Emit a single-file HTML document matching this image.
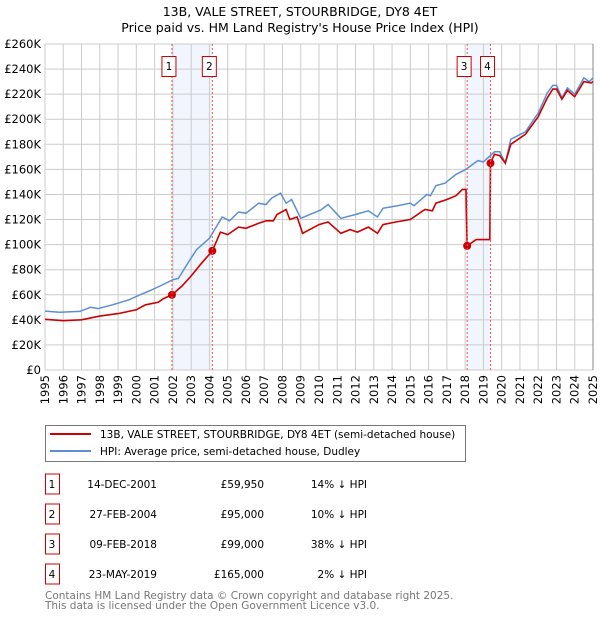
<!DOCTYPE html>
<html><head><meta charset="utf-8"><style>
body{margin:0;background:#fff;width:600px;height:620px;overflow:hidden;font-family:"DejaVu Sans","Liberation Sans",sans-serif;}
svg text{font-family:"DejaVu Sans","Liberation Sans",sans-serif;}
</style></head><body>
<svg id="chart" width="600" height="620" xmlns="http://www.w3.org/2000/svg">
<text x="300" y="16" text-anchor="middle" font-size="12.5" fill="#000">13B, VALE STREET, STOURBRIDGE, DY8 4ET</text>
<text x="300" y="32" text-anchor="middle" font-size="12.5" fill="#000">Price paid vs. HM Land Registry's House Price Index (HPI)</text>
<g id="shades"></g><g id="grid"></g><g id="axes"></g><g id="series"></g><g id="marks"></g>
<g>
<rect x="45.5" y="425.5" width="420" height="36" fill="#fff" stroke="#777"/>
<line x1="50" y1="434" x2="91" y2="434" stroke="#cc0000" stroke-width="2"/>
<text x="100" y="438" font-size="10.5">13B, VALE STREET, STOURBRIDGE, DY8 4ET (semi-detached house)</text>
<line x1="50" y1="451" x2="91" y2="451" stroke="#5b8fd4" stroke-width="2"/>
<text x="100" y="455" font-size="10.5">HPI: Average price, semi-detached house, Dudley</text>
</g>
<g id="table" font-size="10.5"></g>
<text x="45" y="599" font-size="10.5" fill="#777">Contains HM Land Registry data © Crown copyright and database right 2025.</text>
<text x="45" y="609" font-size="10.5" fill="#777">This data is licensed under the Open Government Licence v3.0.</text>
</svg>
<script>
const hpiYears=[1995.0,1995.8,1996.9,1997.5,1997.9,1998.7,1999.6,2000.2,2000.7,2001.3,2002.0,2002.3,2002.9,2003.3,2004.0,2004.7,2005.1,2005.6,2006.0,2006.7,2007.1,2007.4,2007.9,2008.2,2008.5,2009.0,2010.1,2010.5,2011.2,2012.0,2012.7,2013.2,2013.5,2014.3,2015.0,2015.2,2015.9,2016.1,2016.4,2016.9,2017.5,2018.0,2018.7,2019.0,2019.6,2019.9,2020.2,2020.5,2021.3,2022.0,2022.5,2022.8,2023.0,2023.3,2023.6,2024.0,2024.5,2024.8,2025.0];
const hpiValues=[47,46,46.7,50,49,52,56,60,63,67,72,73,87,96,105,122,119,126,125,133,132,137,141,133,136,121,127.6,132,121,124,127,122,129,131,133,131,140,139,147,149,156,159.7,167,166,174,174,165,184,190,205,221,227,227,217,225,220,233,230,233];
const priceYears=[1995.0,1996.0,1997.0,1998.0,1999.0,2000.0,2000.5,2001.2,2001.5,2001.95,2002.5,2003.0,2003.5,2004.16,2004.6,2005.0,2005.6,2006.0,2006.7,2007.1,2007.5,2007.7,2008.2,2008.4,2008.8,2009.1,2010.0,2010.5,2011.2,2011.7,2012.1,2012.7,2013.2,2013.5,2014.2,2015.0,2015.8,2016.2,2016.4,2017.0,2017.5,2017.85,2018.05,2018.11,2018.6,2019.35,2019.39,2019.6,2019.9,2020.2,2020.5,2021.3,2022.0,2022.5,2022.8,2023.0,2023.3,2023.6,2024.0,2024.5,2024.9,2025.0];
const priceValues=[40.4,39.3,40,43,45,48,52,54,57,59.95,67,75,84,95,110,108,114,113,117,119,119,124,128,120,122,109,116,118,109,112,110,114,109,116,118,120,128,127,133,136,139,144,144,99,104,104,165,172,171,165,180,188,202,217,224,224,216,223,218,230,229,230];
const saleYears=[2001.95,2004.16,2018.11,2019.39];
const saleValues=[59.95,95,99,165];
const saleLabels=["1","2","3","4"];
const saleDates=["14-DEC-2001","27-FEB-2004","09-FEB-2018","23-MAY-2019"];
const salePrices=["£59,950","£95,000","£99,000","£165,000"];
const saleDiffs=["14% ↓ HPI","10% ↓ HPI","38% ↓ HPI","2% ↓ HPI"];
const yTicks=[0,20,40,60,80,100,120,140,160,180,200,220,240,260];
const xTicks=[1995,1996,1997,1998,1999,2000,2001,2002,2003,2004,2005,2006,2007,2008,2009,2010,2011,2012,2013,2014,2015,2016,2017,2018,2019,2020,2021,2022,2023,2024,2025];

const NS="http://www.w3.org/2000/svg";
const X0=45,X1=593,Y0=370,Y1=44;
const xs=y=>X0+(y-1995)/30*(X1-X0);
const ys=v=>Y0-v/260*(Y0-Y1);
function mk(parent,tag,attrs){const e=document.createElementNS(NS,tag);for(const k in attrs)e.setAttribute(k,attrs[k]);document.getElementById(parent).appendChild(e);return e;}

for(let i=0;i<2;i++){
  const a=saleYears[2*i],b=saleYears[2*i+1];
  const r=mk('shades','rect',{x:xs(a),y:Y1,width:xs(b)-xs(a),height:Y0-Y1,fill:'#eef3fc',opacity:0.8});
  
  
}
yTicks.forEach(t=>{
  const l=mk('grid','line',{x1:X0,x2:X1,y1:ys(t),y2:ys(t),stroke:'#cccccc','stroke-width':1});
  
  
  const tx=mk('axes','text',{x:X0-4,y:ys(t)+4,'text-anchor':'end','font-size':'11.5',fill:'#000'});
  tx.textContent='£'+t+(t?'K':'');
  
  
});
xTicks.forEach(t=>{
  const l=mk('grid','line',{x1:xs(t),x2:xs(t),y1:Y1,y2:Y0,stroke:'#cccccc','stroke-width':1});
  
  
  const tx=mk('axes','text',{x:0,y:0,'text-anchor':'end','font-size':'11.5',fill:'#000',transform:`translate(${xs(t)+4},${Y0+5}) rotate(-90)`});
  tx.textContent=t;
  
  
});
const rb=mk('axes','line',{x1:X1,x2:X1,y1:Y1,y2:Y0,stroke:'#888','stroke-width':1});



saleYears.forEach((y,i)=>{
  const l=mk('marks','line',{x1:xs(y),x2:xs(y),y1:Y1,y2:Y0,stroke:'#ee5555','stroke-width':1,'stroke-dasharray':'2,2'});
  
  
  const cx=xs(y)-3;
  const r=mk('marks','rect',{x:cx-7,y:56.5,width:14,height:20,fill:'#fff',stroke:'#cc0000','stroke-width':1});
  
  
  const t=mk('marks','text',{x:cx,y:70,'text-anchor':'middle','font-size':'10.5',fill:'#000'});
  t.textContent=saleLabels[i];
  
  
});

const hp=mk('series','path',{d:hpiYears.map((y,i)=>(i?'L':'M')+xs(y).toFixed(1)+','+ys(hpiValues[i]).toFixed(1)).join(''),fill:'none',stroke:'#5b8fd4','stroke-width':1.5});


const pp=mk('series','path',{d:priceYears.map((y,i)=>(i?'L':'M')+xs(y).toFixed(1)+','+ys(priceValues[i]).toFixed(1)).join(''),fill:'none',stroke:'#cc0000','stroke-width':1.6});


saleYears.forEach((y,i)=>{
  const c=mk('series','circle',{cx:xs(y),cy:ys(saleValues[i]),r:4,fill:'#cc0000'});
  
  
});

saleLabels.forEach((s,i)=>{
  const cy=484+i*30;
  const r=mk('table','rect',{x:45.5,y:cy-10,width:14,height:20,fill:'#fff',stroke:'#cc0000','stroke-width':1});
  
  
  const cols=[[52,'middle',s],[157,'end',saleDates[i]],[264,'end',salePrices[i]],[367,'end',saleDiffs[i]]];
  cols.forEach(([x,a,txt],j)=>{
    const t=mk('table','text',{x:x,y:cy+4,'text-anchor':a,'font-size':'10.5',fill:'#000'});
    t.textContent=txt;
    
    
  });
});
</script>
</body></html>
